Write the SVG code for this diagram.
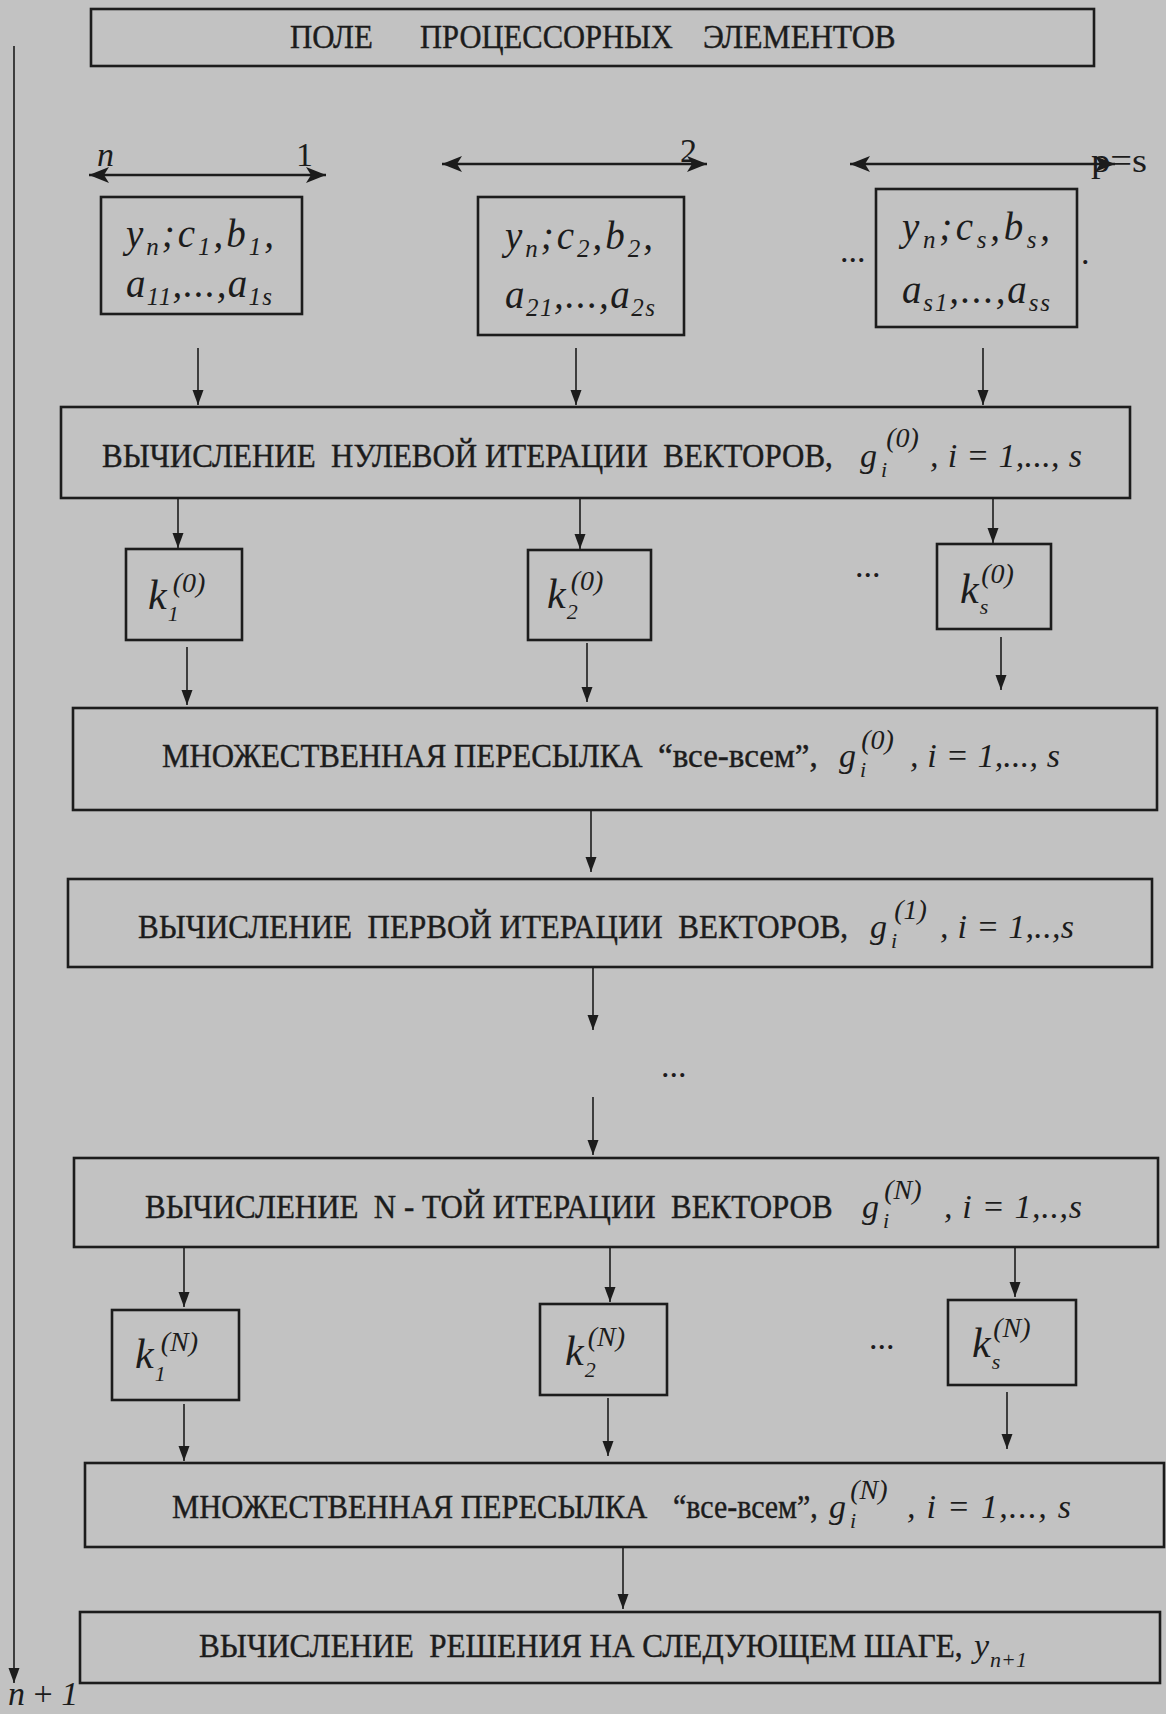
<svg xmlns="http://www.w3.org/2000/svg" width="1166" height="1714" viewBox="0 0 1166 1714">
<style>
.bg{fill:#c2c2c2}
.box{fill:none;stroke:#1c1c1c;stroke-width:2.6}
.ln{stroke:#1c1c1c;stroke-width:1.6;fill:none}
.ln2{stroke:#1c1c1c;stroke-width:2.4;fill:none}
.t{font-family:"Liberation Serif","DejaVu Serif",serif;font-size:33px;fill:#1c1c1c;stroke:#1c1c1c;stroke-width:0.4}
.m{font-family:"Liberation Serif","DejaVu Serif",serif;font-style:italic;font-size:34px;fill:#1c1c1c}
.ms{font-family:"Liberation Serif","DejaVu Serif",serif;font-style:italic;font-size:22px;fill:#1c1c1c}
.sp{font-family:"Liberation Serif","DejaVu Serif",serif;font-style:italic;font-size:28px;fill:#1c1c1c}
.mb{font-family:"Liberation Serif","DejaVu Serif",serif;font-style:italic;font-size:39px;fill:#1c1c1c}
.mk{font-family:"Liberation Serif","DejaVu Serif",serif;font-style:italic;font-size:42px;fill:#1c1c1c}
.sb{font-size:25px}
.lb{font-family:"Liberation Serif","DejaVu Serif",serif;font-size:34px;fill:#1c1c1c}
</style>
<defs>
<marker id="ah" markerUnits="userSpaceOnUse" markerWidth="16" markerHeight="12" refX="15" refY="5.5" orient="auto" viewBox="0 0 16 12">
<path d="M0,0 L15,5.5 L0,11 z" fill="#1c1c1c"/>
</marker>
<marker id="ah2" markerUnits="userSpaceOnUse" markerWidth="22" markerHeight="18" refX="20" refY="8" orient="auto-start-reverse" viewBox="0 0 22 18">
<path d="M0,0 L20,8 L0,16 L5,8 z" fill="#1c1c1c"/>
</marker>
</defs>
<rect class="bg" x="0" y="0" width="1166" height="1714"/>

<g id="connectors">
<line class="ln" x1="14" y1="46" x2="14" y2="1683" marker-end="url(#ah)"/>
<line class="ln2" x1="89" y1="175" x2="326" y2="175" marker-start="url(#ah2)" marker-end="url(#ah2)"/>
<line class="ln2" x1="442" y1="164" x2="707" y2="164" marker-start="url(#ah2)" marker-end="url(#ah2)"/>
<line class="ln2" x1="850" y1="164" x2="1115" y2="164" marker-start="url(#ah2)" marker-end="url(#ah2)"/>
<line class="ln" x1="198" y1="348" x2="198" y2="405" marker-end="url(#ah)"/>
<line class="ln" x1="576" y1="348" x2="576" y2="405" marker-end="url(#ah)"/>
<line class="ln" x1="983" y1="348" x2="983" y2="405" marker-end="url(#ah)"/>
<line class="ln" x1="178" y1="498" x2="178" y2="548" marker-end="url(#ah)"/>
<line class="ln" x1="580" y1="498" x2="580" y2="549" marker-end="url(#ah)"/>
<line class="ln" x1="993" y1="498" x2="993" y2="543" marker-end="url(#ah)"/>
<line class="ln" x1="187" y1="647" x2="187" y2="705" marker-end="url(#ah)"/>
<line class="ln" x1="587" y1="643" x2="587" y2="702" marker-end="url(#ah)"/>
<line class="ln" x1="1001" y1="637" x2="1001" y2="690" marker-end="url(#ah)"/>
<line class="ln" x1="591" y1="811" x2="591" y2="872" marker-end="url(#ah)"/>
<line class="ln" x1="593" y1="968" x2="593" y2="1030" marker-end="url(#ah)"/>
<line class="ln" x1="593" y1="1097" x2="593" y2="1155" marker-end="url(#ah)"/>
<line class="ln" x1="184" y1="1248" x2="184" y2="1307" marker-end="url(#ah)"/>
<line class="ln" x1="610" y1="1248" x2="610" y2="1302" marker-end="url(#ah)"/>
<line class="ln" x1="1015" y1="1248" x2="1015" y2="1297" marker-end="url(#ah)"/>
<line class="ln" x1="184" y1="1404" x2="184" y2="1461" marker-end="url(#ah)"/>
<line class="ln" x1="608" y1="1398" x2="608" y2="1456" marker-end="url(#ah)"/>
<line class="ln" x1="1007" y1="1392" x2="1007" y2="1449" marker-end="url(#ah)"/>
<line class="ln" x1="623" y1="1548" x2="623" y2="1609" marker-end="url(#ah)"/>
</g>

<g id="labels">
<text class="m" x="97" y="166" font-size="32">n</text>
<text class="lb" x="296" y="166">1</text>
<text class="lb" x="680" y="162">2</text>
<text class="lb" x="1091" y="172" textLength="56" lengthAdjust="spacingAndGlyphs">p=s</text>
<text class="lb" x="840" y="262">...</text>
<text class="lb" x="1081" y="264">.</text>
<text class="lb" x="855" y="577">...</text>
<text class="lb" x="661" y="1077">...</text>
<text class="lb" x="869" y="1349">...</text>
<text class="m" x="8" y="1705" font-size="30">n <tspan font-style="normal">+</tspan> 1</text>
</g>

<g id="n-top">
<rect class="box" x="91" y="9" width="1003" height="57"/>
<text class="t" transform="translate(290,48) scale(0.9,1)" textLength="92" lengthAdjust="spacingAndGlyphs">ПОЛЕ</text>
<text class="t" transform="translate(420,48) scale(0.9,1)" textLength="281" lengthAdjust="spacingAndGlyphs">ПРОЦЕССОРНЫХ</text>
<text class="t" transform="translate(703,48) scale(0.9,1)" textLength="214" lengthAdjust="spacingAndGlyphs">ЭЛЕМЕНТОВ</text>
</g>

<g id="n-p1">
<rect class="box" x="101" y="197" width="201" height="117"/>
<text class="mb" x="126" y="247" textLength="148" lengthAdjust="spacing">y<tspan class="sb" dy="8">n</tspan><tspan dy="-8">;c</tspan><tspan class="sb" dy="8">1</tspan><tspan dy="-8">,b</tspan><tspan class="sb" dy="8">1</tspan><tspan dy="-8">,</tspan></text>
<text class="mb" x="126" y="297" textLength="146" lengthAdjust="spacing">a<tspan class="sb" dy="8">11</tspan><tspan dy="-8">,...,a</tspan><tspan class="sb" dy="8">1s</tspan></text>
</g>

<g id="n-p2">
<rect class="box" x="478" y="197" width="206" height="138"/>
<text class="mb" x="505" y="249" textLength="148" lengthAdjust="spacing">y<tspan class="sb" dy="8">n</tspan><tspan dy="-8">;c</tspan><tspan class="sb" dy="8">2</tspan><tspan dy="-8">,b</tspan><tspan class="sb" dy="8">2</tspan><tspan dy="-8">,</tspan></text>
<text class="mb" x="505" y="308" textLength="150" lengthAdjust="spacing">a<tspan class="sb" dy="8">21</tspan><tspan dy="-8">,...,a</tspan><tspan class="sb" dy="8">2s</tspan></text>
</g>

<g id="n-ps">
<rect class="box" x="876" y="189" width="201" height="138"/>
<text class="mb" x="902" y="240" textLength="148" lengthAdjust="spacing">y<tspan class="sb" dy="8">n</tspan><tspan dy="-8">;c</tspan><tspan class="sb" dy="8">s</tspan><tspan dy="-8">,b</tspan><tspan class="sb" dy="8">s</tspan><tspan dy="-8">,</tspan></text>
<text class="mb" x="902" y="303" textLength="148" lengthAdjust="spacing">a<tspan class="sb" dy="8">s1</tspan><tspan dy="-8">,...,a</tspan><tspan class="sb" dy="8">ss</tspan></text>
</g>

<g id="n-calc0">
<rect class="box" x="61" y="407" width="1069" height="91"/>
<text class="t" transform="translate(102,467) scale(0.9,1)" xml:space="preserve" textLength="812" lengthAdjust="spacingAndGlyphs">ВЫЧИСЛЕНИЕ  НУЛЕВОЙ ИТЕРАЦИИ  ВЕКТОРОВ,</text>
<text class="m" x="860" y="467">g<tspan class="ms" dx="4" dy="10">i</tspan><tspan class="sp" dx="-1" dy="-30">(0)</tspan></text>
<text class="m" x="930" y="467" xml:space="preserve" textLength="152" lengthAdjust="spacing">, i = 1,..., s</text>
</g>

<g id="n-k10">
<rect class="box" x="126" y="549" width="116" height="91"/>
<text class="mk" x="148" y="609">k<tspan class="ms" dx="1" dy="12">1</tspan><tspan class="sp" dx="-6" dy="-29">(0)</tspan></text>
</g>
<g id="n-k20">
<rect class="box" x="528" y="550" width="123" height="90"/>
<text class="mk" x="547" y="608">k<tspan class="ms" dx="1" dy="11">2</tspan><tspan class="sp" dx="-7" dy="-29">(0)</tspan></text>
</g>
<g id="n-ks0">
<rect class="box" x="937" y="544" width="114" height="85"/>
<text class="mk" x="960" y="603">k<tspan class="ms" dx="1" dy="11">s</tspan><tspan class="sp" dx="-7" dy="-31">(0)</tspan></text>
</g>

<g id="n-mult0">
<rect class="box" x="73" y="708" width="1084" height="102"/>
<text class="t" transform="translate(162,767) scale(0.9,1)" textLength="534" lengthAdjust="spacingAndGlyphs">МНОЖЕСТВЕННАЯ ПЕРЕСЫЛКА</text>
<text class="t" transform="translate(658,767) scale(0.85,1)" textLength="188" lengthAdjust="spacingAndGlyphs">“все-всем”,</text>
<text class="m" x="839" y="767">g<tspan class="ms" dx="4" dy="10">i</tspan><tspan class="sp" dx="-5" dy="-28">(0)</tspan></text>
<text class="m" x="910" y="767" xml:space="preserve" textLength="150" lengthAdjust="spacing">, i = 1,..., s</text>
</g>

<g id="n-calc1">
<rect class="box" x="68" y="879" width="1084" height="88"/>
<text class="t" transform="translate(138,938) scale(0.9,1)" xml:space="preserve" textLength="789" lengthAdjust="spacingAndGlyphs">ВЫЧИСЛЕНИЕ  ПЕРВОЙ ИТЕРАЦИИ  ВЕКТОРОВ,</text>
<text class="m" x="870" y="938">g<tspan class="ms" dx="4" dy="10">i</tspan><tspan class="sp" dx="-3" dy="-29">(1)</tspan></text>
<text class="m" x="940" y="938" xml:space="preserve" textLength="134" lengthAdjust="spacing">, i = 1,..,s</text>
</g>

<g id="n-calcN">
<rect class="box" x="74" y="1158" width="1084" height="89"/>
<text class="t" transform="translate(145,1218) scale(0.9,1)" xml:space="preserve" textLength="764" lengthAdjust="spacingAndGlyphs">ВЫЧИСЛЕНИЕ  N - ТОЙ ИТЕРАЦИИ  ВЕКТОРОВ</text>
<text class="m" x="862" y="1218">g<tspan class="ms" dx="4" dy="10">i</tspan><tspan class="sp" dx="-5" dy="-29">(N)</tspan></text>
<text class="m" x="944" y="1218" xml:space="preserve" textLength="138" lengthAdjust="spacing">, i = 1,..,s</text>
</g>

<g id="n-k1N">
<rect class="box" x="112" y="1310" width="127" height="90"/>
<text class="mk" x="135" y="1368">k<tspan class="ms" dx="1" dy="13">1</tspan><tspan class="sp" dx="-5" dy="-30">(N)</tspan></text>
</g>
<g id="n-k2N">
<rect class="box" x="540" y="1304" width="127" height="91"/>
<text class="mk" x="565" y="1365">k<tspan class="ms" dx="1" dy="12">2</tspan><tspan class="sp" dx="-8" dy="-31">(N)</tspan></text>
</g>
<g id="n-ksN">
<rect class="box" x="948" y="1300" width="128" height="85"/>
<text class="mk" x="972" y="1357">k<tspan class="ms" dx="1" dy="12">s</tspan><tspan class="sp" dx="-7" dy="-32">(N)</tspan></text>
</g>

<g id="n-multN">
<rect class="box" x="85" y="1463" width="1079" height="84"/>
<text class="t" transform="translate(172,1518) scale(0.9,1)" textLength="528" lengthAdjust="spacingAndGlyphs">МНОЖЕСТВЕННАЯ ПЕРЕСЫЛКА</text>
<text class="t" transform="translate(673,1518) scale(0.8,1)" textLength="181" lengthAdjust="spacingAndGlyphs">“все-всем”,</text>
<text class="m" x="829" y="1518">g<tspan class="ms" dx="4" dy="10">i</tspan><tspan class="sp" dx="-6" dy="-29">(N)</tspan></text>
<text class="m" x="907" y="1518" xml:space="preserve" textLength="164" lengthAdjust="spacing">, i = 1,..., s</text>
</g>

<g id="n-final">
<rect class="box" x="80" y="1612" width="1080" height="71"/>
<text class="t" transform="translate(199,1657) scale(0.92,1)" xml:space="preserve" textLength="830" lengthAdjust="spacingAndGlyphs">ВЫЧИСЛЕНИЕ  РЕШЕНИЯ НА СЛЕДУЮЩЕМ ШАГЕ,</text>
<text class="m" x="974" y="1657">y<tspan class="ms" font-size="24" dx="1" dy="10">n+1</tspan></text>
</g>
</svg>
